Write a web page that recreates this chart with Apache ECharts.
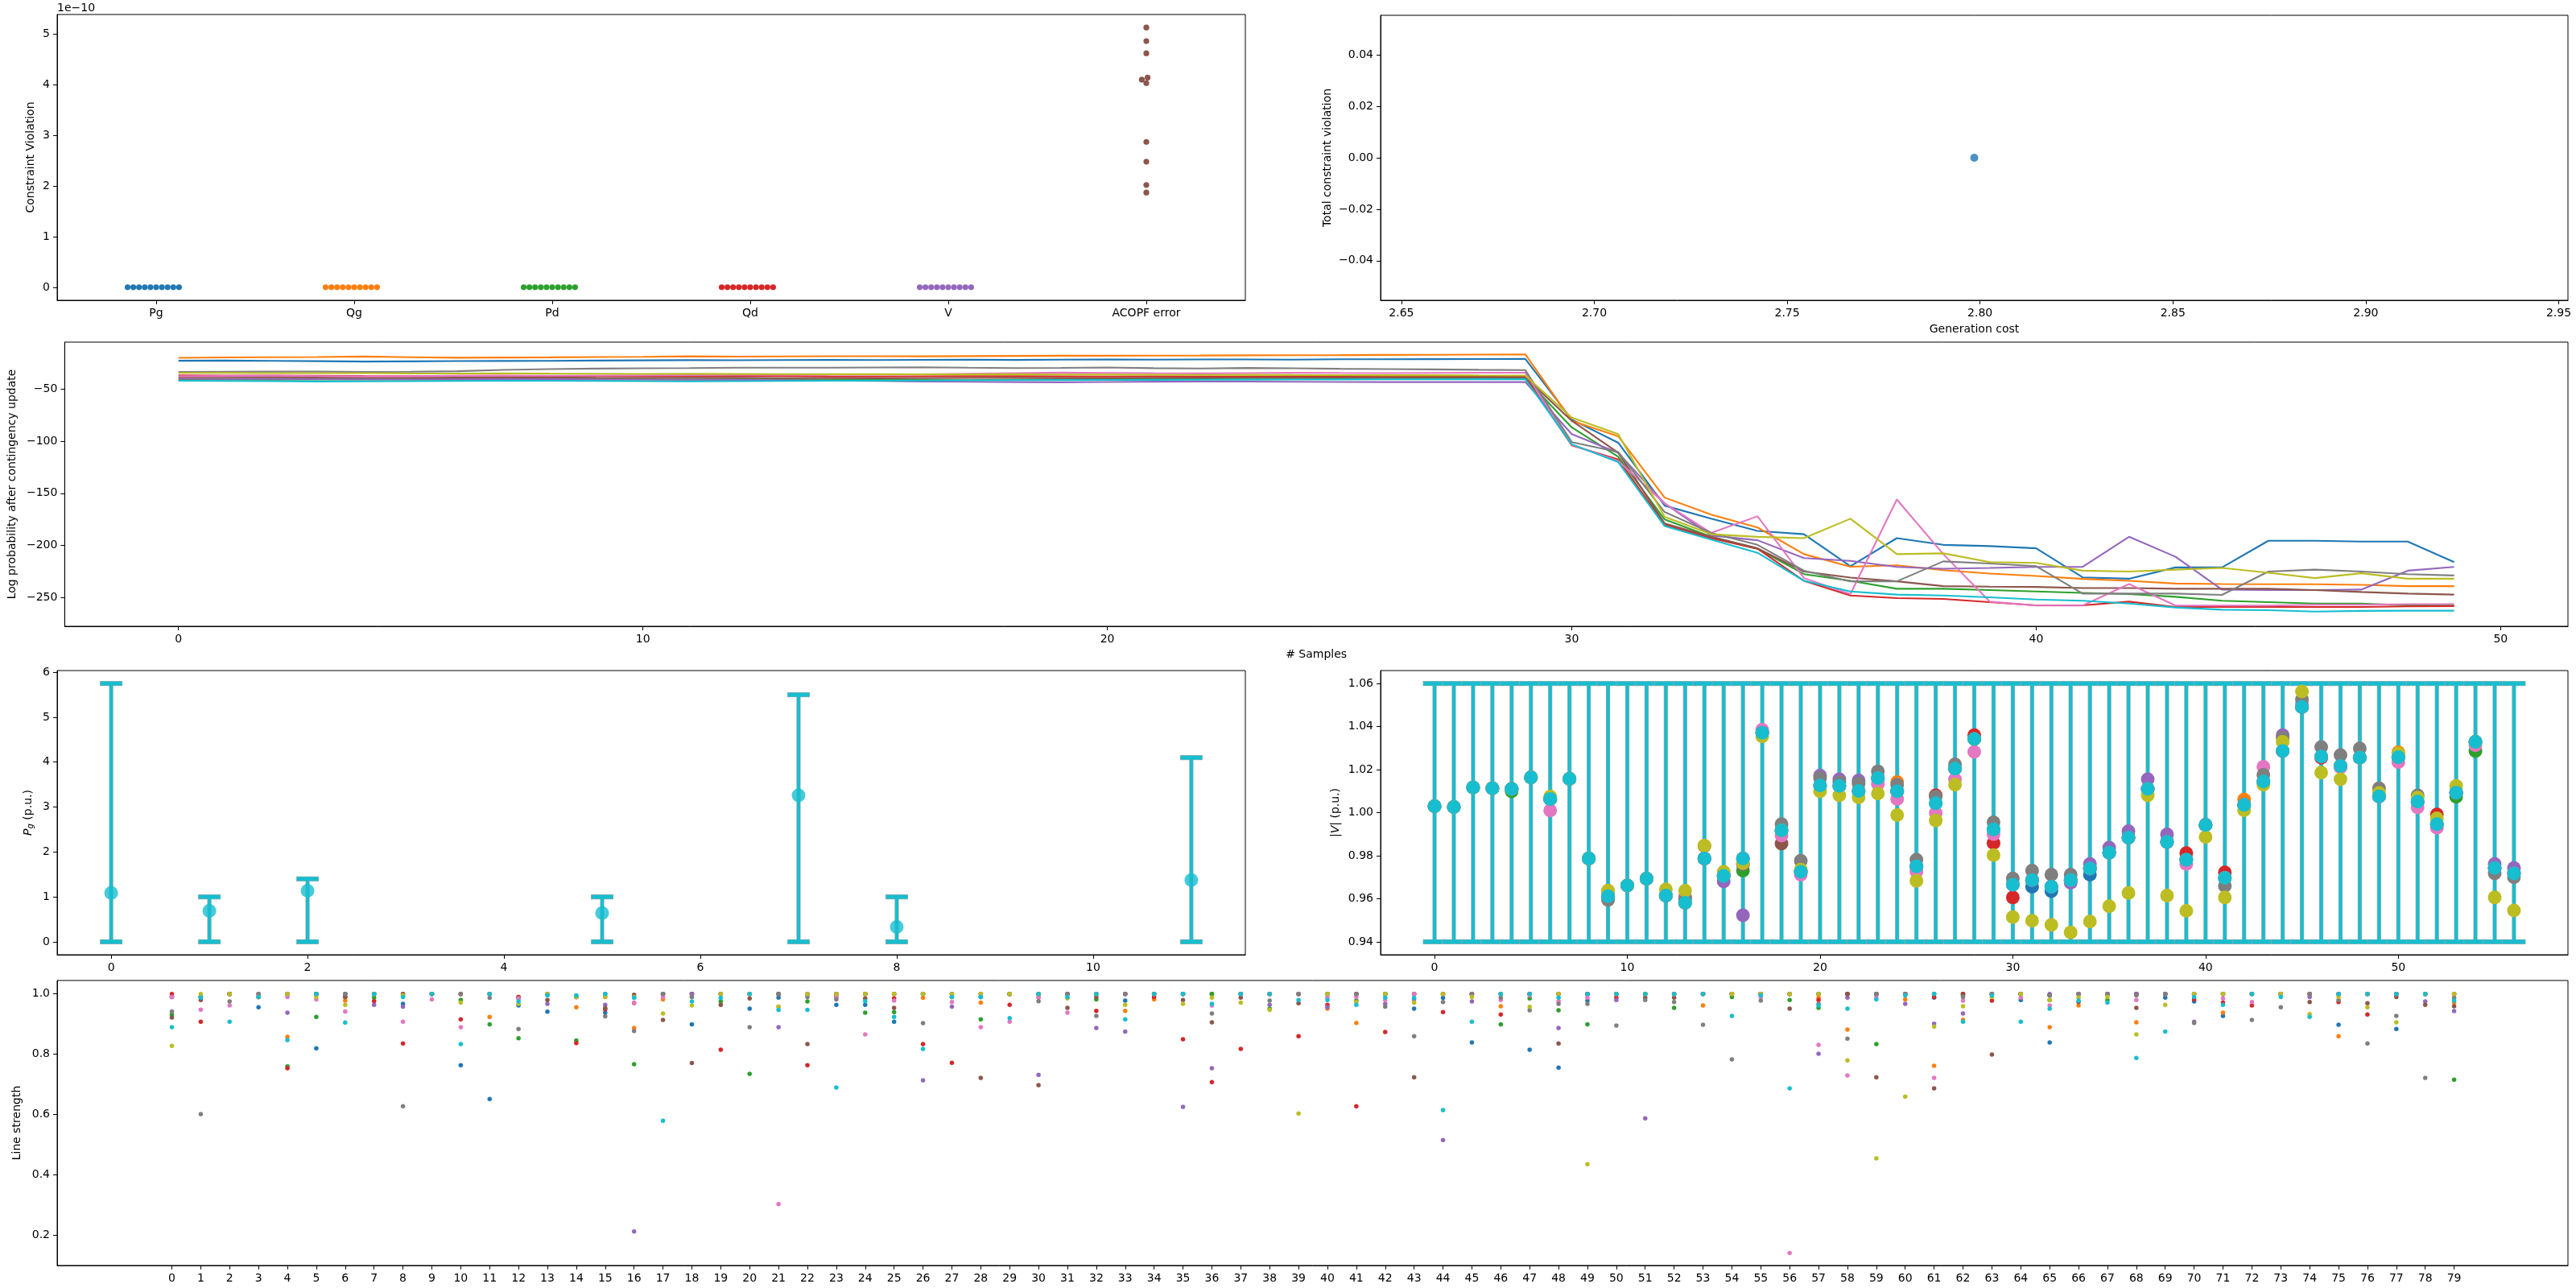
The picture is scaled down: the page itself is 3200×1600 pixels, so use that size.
<!DOCTYPE html>
<html><head><meta charset="utf-8">
<script src="https://cdn.jsdelivr.net/npm/echarts@6/dist/echarts.min.js"></script>
<style>html,body{margin:0;padding:0;background:#fff}#c{width:3200px;height:1600px}</style>
</head><body><div id="c"></div>
<script>
// ---------- Panel 1: constraint violation per category ----------
const violCats = ['Pg', 'Qg', 'Pd', 'Qd', 'V', 'ACOPF error'];
const violPg = [0,0,0,0,0,0,0,0,0,0];
const violQg = [0,0,0,0,0,0,0,0,0,0];
const violPd = [0,0,0,0,0,0,0,0,0,0];
const violQd = [0,0,0,0,0,0,0,0,0,0];
const violV  = [0,0,0,0,0,0,0,0,0,0];
const violACOPF = [5.13e-10, 4.86e-10, 4.62e-10, 4.14e-10, 4.10e-10, 4.03e-10, 2.87e-10, 2.48e-10, 2.02e-10, 1.87e-10];
const violTicks = [0, 1e-10, 2e-10, 3e-10, 4e-10, 5e-10];

// ---------- Panel 2: total violation vs cost ----------
const genCost = [2.7985];
const totalViol = [0];
const costTicks = [2.65, 2.70, 2.75, 2.80, 2.85, 2.90, 2.95];
const totViolTicks = [-0.04, -0.02, 0, 0.02, 0.04];

// ---------- Panel 3: log probability ----------
const logpBlue = [-23.2,-23.0,-23.3,-23.6,-24.0,-23.8,-23.5,-23.4,-23.3,-23.0,-22.8,-22.6,-22.7,-22.5,-22.4,-22.5,-22.3,-22.2,-22.4,-22.1,-22.0,-22.2,-22.0,-21.9,-22.1,-21.8,-21.8,-21.7,-21.6,-21.5,-79.4,-101.6,-161.8,-174.3,-186.0,-189.1,-219.7,-192.9,-199.3,-200.5,-202.6,-230.4,-231.7,-220.9,-220.9,-195.4,-195.4,-196.2,-196.2,-215.8];
const logpOrange = [-20.4,-20.0,-19.8,-19.6,-19.2,-19.8,-20.3,-20.1,-19.9,-19.6,-19.4,-19.0,-19.3,-19.1,-18.9,-18.9,-19.0,-18.8,-18.6,-18.4,-18.4,-18.3,-18.2,-18.0,-17.9,-17.8,-17.6,-17.5,-17.3,-17.1,-80.6,-95.4,-154.1,-170.4,-182.7,-208.2,-220.2,-218.9,-223.5,-226.8,-229.1,-231.9,-233.7,-236.3,-236.8,-237.0,-237.0,-237.5,-238.8,-238.8];
const logpGreen = [-41.0,-41.2,-41.3,-41.1,-41.0,-41.2,-41.4,-41.3,-41.1,-41.0,-41.2,-41.3,-41.1,-41.0,-41.4,-41.5,-41.6,-41.8,-41.4,-41.0,-40.6,-40.3,-40.0,-39.8,-39.8,-40.0,-39.9,-39.8,-39.9,-39.9,-87.0,-115.0,-175.0,-191.6,-203.0,-227.3,-233.7,-241.3,-241.3,-242.6,-243.9,-245.2,-246.4,-249.0,-252.8,-254.1,-255.4,-255.4,-257.2,-257.2];
const logpRed = [-37.2,-37.4,-37.3,-37.5,-37.8,-38.0,-37.6,-37.5,-37.7,-37.9,-38.0,-37.8,-37.7,-37.9,-38.2,-38.3,-38.1,-37.9,-38.0,-38.2,-38.3,-38.2,-38.4,-38.3,-38.5,-38.4,-38.6,-38.5,-38.4,-38.6,-104.1,-117.6,-180.1,-192.9,-203.0,-233.7,-247.7,-250.3,-251.0,-254.1,-257.2,-257.2,-253.6,-258.7,-258.7,-258.7,-258.7,-258.7,-258.2,-257.9];
const logpPurple = [-40.4,-40.6,-40.5,-40.8,-41.0,-40.9,-40.7,-40.6,-40.8,-41.0,-41.2,-41.4,-41.5,-41.8,-42.2,-42.5,-43.0,-43.3,-43.6,-43.8,-43.5,-43.2,-43.0,-43.1,-43.3,-43.5,-43.6,-43.5,-43.6,-43.6,-93.4,-111.2,-159.7,-190.3,-194.9,-212.0,-214.6,-220.4,-222.2,-221.4,-220.4,-220.4,-191.6,-210.7,-242.1,-242.6,-242.6,-242.1,-224.0,-220.4];
const logpBrown = [-39.0,-38.9,-39.1,-39.3,-39.5,-39.6,-39.4,-39.3,-39.2,-39.5,-39.7,-39.6,-39.5,-39.8,-39.9,-40.0,-39.8,-39.7,-39.6,-39.8,-39.9,-39.7,-39.6,-39.5,-39.3,-39.4,-39.2,-39.1,-39.0,-39.0,-80.6,-111.2,-178.9,-191.6,-202.6,-224.8,-230.6,-234.2,-238.8,-239.3,-239.6,-240.6,-240.6,-241.3,-241.3,-241.3,-242.6,-244.4,-245.9,-246.9];
const logpPink = [-38.0,-37.8,-37.6,-37.9,-38.2,-38.0,-37.7,-37.5,-37.6,-37.4,-37.2,-37.0,-36.8,-36.6,-36.5,-36.6,-36.2,-35.6,-35.0,-34.6,-34.8,-35.1,-35.3,-35.0,-34.7,-34.9,-35.0,-34.8,-34.7,-34.7,-103.6,-118.9,-159.7,-187.8,-172.0,-231.1,-246.4,-155.9,-208.2,-253.6,-257.4,-257.4,-236.8,-257.4,-257.4,-257.4,-256.6,-256.6,-256.0,-256.0];
const logpGray = [-33.9,-33.7,-33.5,-33.6,-33.9,-33.7,-33.2,-32.0,-31.2,-30.7,-30.4,-30.2,-29.9,-29.9,-29.8,-29.6,-29.5,-29.9,-30.2,-30.0,-29.7,-30.3,-30.6,-30.1,-30.4,-30.9,-31.2,-31.5,-31.9,-32.2,-101.0,-110.5,-167.9,-187.8,-199.3,-224.0,-234.2,-234.2,-215.1,-217.1,-219.7,-245.9,-245.9,-245.9,-247.2,-224.8,-223.0,-224.8,-227.3,-228.6];
const logpOlive = [-34.8,-34.9,-35.0,-35.1,-35.0,-35.3,-35.4,-35.2,-35.5,-35.6,-35.8,-35.7,-35.9,-36.0,-36.1,-36.0,-36.2,-36.3,-36.1,-36.4,-36.5,-36.6,-36.8,-36.7,-36.9,-37.0,-37.1,-37.0,-37.2,-37.3,-77.6,-93.4,-172.5,-189.1,-191.6,-192.9,-174.3,-208.2,-207.4,-215.8,-216.6,-224.0,-224.8,-223.0,-221.4,-226.0,-231.1,-226.5,-231.7,-231.7];
const logpCyan = [-42.4,-42.6,-42.8,-43.0,-42.9,-42.7,-42.5,-42.3,-42.4,-42.6,-42.8,-42.9,-42.7,-42.5,-42.4,-42.3,-42.2,-42.0,-41.8,-41.7,-41.6,-41.5,-41.4,-41.3,-41.2,-41.1,-41.0,-41.0,-40.9,-40.9,-103.1,-120.2,-181.4,-194.2,-206.9,-233.7,-243.9,-246.9,-247.7,-249.5,-251.6,-252.8,-255.4,-259.2,-261.3,-261.8,-263.1,-262.5,-262.3,-262.3];
const logpTicksX = [0, 10, 20, 30, 40, 50];
const logpTicksY = [-250, -200, -150, -100, -50];

// ---------- Panel 4: generator output with limits ----------
const pgGen = [0, 1, 2, 5, 7, 8, 11];
const pgValue = [1.088, 0.688, 1.136, 0.64, 3.26, 0.329, 1.376];
const pgMin = [0, 0, 0, 0, 0, 0, 0];
const pgMax = [5.75, 1.0, 1.4, 1.0, 5.5, 1.0, 4.1];
const pgTicksX = [0, 2, 4, 6, 8, 10];
const pgTicksY = [0, 1, 2, 3, 4, 5, 6];

// ---------- Panel 5: bus voltage magnitudes ----------
const vBusMin = 0.94, vBusMax = 1.06;
const vBlue   = {31:0.9656, 32:0.9635, 34:0.9712};
const vOrange = {9:0.9637, 24:1.0142, 42:1.0061, 50:1.028};
const vGreen  = {4:1.0099, 16:0.9731, 53:1.0074, 54:1.0286};
const vBrown  = {14:0.9845, 16:0.976, 18:0.9856};
const vRed = [1.003,1.0026,1.0117,1.0113,1.011,1.0164,1.0064,1.0157,0.9787,0.9612,0.9662,0.9693,0.9615,0.9581,0.9787,0.9706,0.9787,1.0371,0.9918,0.9725,1.0126,1.0124,1.0101,1.0161,1.0099,0.975,1.008,1.0205,1.036,0.9859,0.9606,0.9687,0.9656,0.9687,0.974,0.9814,0.9884,1.011,0.9864,0.9812,0.9943,0.9722,1.0036,1.0145,1.0286,1.0491,1.0255,1.0217,1.0255,1.0076,1.0258,1.0051,0.9992,1.0093,1.0329,0.9743,0.9718];
const vPurple = [1.003,1.0026,1.0117,1.0113,1.011,1.0164,1.0064,1.0157,0.9787,0.9612,0.9662,0.9693,0.9615,0.9605,0.9787,0.968,0.9523,1.0371,0.9918,0.9725,1.0172,1.0155,1.015,1.0161,1.0099,0.975,1.0044,1.0205,1.0342,0.9922,0.9665,0.9687,0.9656,0.9675,0.9762,0.9837,0.9914,1.0155,0.9899,0.9781,0.9943,0.9697,1.0036,1.0145,1.036,1.0491,1.0261,1.0217,1.0255,1.0076,1.0258,1.0051,0.9947,1.0093,1.0329,0.9762,0.9743];
const vPink = [1.003,1.0026,1.0117,1.0113,1.011,1.0164,1.001,1.0157,0.9787,0.9612,0.9662,0.9693,0.9615,0.961,0.9787,0.9706,0.9787,1.0385,0.9893,0.9712,1.0126,1.0124,1.0101,1.0133,1.0064,0.9725,0.9998,1.0155,1.0282,0.99,0.9665,0.9687,0.9656,0.9687,0.974,0.9814,0.9884,1.011,0.9864,0.9762,0.9943,0.9697,1.0036,1.0213,1.0286,1.0506,1.0261,1.021,1.0255,1.0076,1.0235,1.0024,0.993,1.0093,1.0313,0.9743,0.9718];
const vGray = [1.003,1.0026,1.0117,1.0113,1.011,1.0164,1.0064,1.0157,0.9787,0.9594,0.9662,0.9693,0.9615,0.96,0.9787,0.9706,0.9762,1.0371,0.9947,0.9777,1.0161,1.0142,1.0136,1.0192,1.013,0.9781,1.0075,1.0224,1.0342,0.9955,0.9694,0.9731,0.9712,0.9712,0.974,0.9814,0.9884,1.011,0.9864,0.9781,0.9943,0.966,1.0036,1.0176,1.0348,1.0525,1.0305,1.0267,1.0298,1.0113,1.0258,1.008,0.9947,1.0093,1.0329,0.9718,0.97];
const vOlive = [1.003,1.0026,1.0117,1.0113,1.011,1.0164,1.0075,1.0157,0.9787,0.9637,0.9662,0.9693,0.9644,0.9637,0.9847,0.9725,0.9765,1.0354,0.9918,0.9735,1.0099,1.008,1.0071,1.0089,0.9989,0.9683,0.9964,1.013,1.0342,0.9803,0.9515,0.9498,0.9478,0.9444,0.9494,0.9565,0.9627,1.008,0.9615,0.9544,0.9887,0.9606,1.0011,1.013,1.0329,1.0563,1.0186,1.0155,1.0255,1.0092,1.0275,1.007,0.9974,1.0124,1.0329,0.9606,0.9546];
const vCyan = [1.003,1.0026,1.0117,1.0113,1.011,1.0164,1.0064,1.0157,0.9787,0.9612,0.9662,0.9693,0.9615,0.9581,0.9787,0.9706,0.9787,1.0371,0.9918,0.9725,1.0126,1.0124,1.0101,1.0161,1.0099,0.975,1.0044,1.0205,1.0342,0.9922,0.9665,0.9687,0.9656,0.9687,0.974,0.9814,0.9884,1.011,0.9864,0.9781,0.9943,0.9697,1.0036,1.0145,1.0286,1.0491,1.0261,1.0217,1.0255,1.0076,1.0258,1.0051,0.9947,1.0093,1.0329,0.9743,0.9718];
const vTicksX = [0, 10, 20, 30, 40, 50];
const vTicksY = [0.94, 0.96, 0.98, 1.00, 1.02, 1.04, 1.06];

// ---------- Panel 6: line strength ----------
const lsBlue = [.99,.99,1,.956,1,.82,1,1,.967,1, .764,.652,.962,.941,.99,.938,.99,1,.899,1, .951,.988,1,.964,.964,.908,1,1,.99,1, 1,1,1,.978,1,1,1,1,1,1, 1,1,1,.951,.987,.839,1,.815,.756,.978, 1,1,1,1,1,1,1,1,1,1, 1,.988,1,1,.98,.839,1,1,1,.988, .975,.927,1,1,1,.898,1,.884,1,1];
const lsOrange = [.99,.99,1,.99,.858,1,.978,1,1,1, 1,.924,.99,1,.956,.99,.887,.982,1,1, 1,.958,1,1,1,1,.987,1,.971,1, .99,1,1,.944,.982,1,1,1,1,1, .951,.904,1,1,1,1,.959,1,1,1, 1,1,1,.962,1,1,1,.988,.882,1, .982,.762,.914,1,1,.89,.962,1,.906,1, 1,.938,1,1,1,.86,1,1,1,.971];
const lsGreen = [.932,.99,1,.99,.76,.924,1,.988,.995,1, .98,.899,.853,1,.846,1,.767,1,1,.975, .735,1,.975,1,.938,.94,1,.99,.916,1, 1,1,.982,1,1,1,1,1,.951,1, 1,.978,1,1,1,1,.899,.985,.946,.899, 1,1,.954,1,.99,1,.98,.954,1,.834, 1,1,1,1,1,.98,1,.98,1,1, 1,1,1,1,1,1,1,1,1,.716];
const lsRed = [1,.908,1,.99,.754,1,.99,.976,.836,1, .916,1,.99,1,.837,.949,.97,1,1,.815, 1,1,.764,1,1,.985,.834,.772,1,.964, 1,1,.944,1,.99,.85,.708,.818,1,.86, .964,.628,.874,1,.94,1,.932,1,1,1, .988,1,1,1,1,1,1,.98,1,1, 1,.99,1,.978,1,.995,1,1,1,1, .982,.971,.962,1,1,.973,.932,1,1,1];
const lsPurple = [.99,.99,1,.99,.938,1,1,.964,.958,1, 1,1,.985,.967,.99,.964,.213,1,1,1, 1,.89,1,1,1,1,.714,.958,1,1, .732,1,.887,.875,1,.626,.754,1,.964,1, .956,1,.967,.982,.516,.975,1,1,.887,1, .98,.588,1,1,1,1,1,.802,.988,1, .967,.901,.935,1,1,1,1,1,1,1, .908,1,1,1,.99,1,1,1,.975,.943];
const lsBrown = [.922,.98,1,1,1,1,.99,1,1,1, 1,1,.988,.98,.99,.953,.997,.914,.771,.964, .985,1,.834,.99,.985,.954,1,1,.722,1, .698,.954,.99,1,1,.98,.906,.988,1,.969, 1,1,1,.724,1,1,1,1,.836,1, 1,.988,.988,1,1,1,.951,1,1,.724, 1,.687,.995,.799,1,.995,.973,1,.954,1, 1,1,1,1,.973,1,.969,.99,.964,.959];
const lsPink = [.99,.948,.962,1,.99,.982,.942,1,.908,.982, .89,1,.985,1,.99,1,.971,.99,.99,1, 1,.304,1,.99,.866,.978,1,.973,.89,.908, .988,.938,1,1,1,1,.962,1,1,1, .988,.99,.98,1,1,1,.98,.995,.976,.988, 1,1,1,1,1,.99,.142,.831,.73,.99, 1,.722,.978,1,.988,.962,1,1,.98,1, 1,.985,.973,1,1,1,1,1,1,1];
const lsGray = [.942,.602,.975,1,1,1,1,1,.628,1, 1,.987,.884,1,.99,.926,.877,1,.99,1, .89,1,.99,.982,1,1,.903,.99,.99,1, .976,1,.927,1,1,1,.935,1,.978,1, 1,1,.958,.86,.973,1,.988,.946,.967,.967, .895,.98,.973,.898,.783,.978,1,.967,.852,1, 1,1,.99,1,1,.995,1,1,.995,1, .904,1,.914,.956,1,.98,.836,.927,.722,.988];
const lsOlive = [.828,1,1,.99,1,.99,.964,1,.995,1, .971,1,.967,1,.99,.991,.99,.935,.962,1, 1,.958,1,1,1,1,1,1,1,1, 1,.985,1,.964,1,.967,.988,.971,.947,.604, 1,.973,1,.971,1,.99,1,.957,1,.436, 1,1,1,1,1,1,1,1,.78,.455, .66,.892,.959,.99,1,.98,.988,.99,.866,.964, 1,1,1,1,.933,.99,.956,.906,1,1];
const lsCyan = [.89,.988,.908,.99,.847,1,.905,1,.99,1, .834,1,.975,.995,.995,1,.987,.58,.975,.987, 1,.947,.947,.69,.976,.924,.818,.99,.99,.92, 1,.99,1,.916,1,1,.967,1,1,.98, .98,.964,.988,.987,.615,.908,1,1,.988,1, 1,1,1,1,.927,.995,.687,.962,.951,.982, .995,1,.908,.995,.908,.951,.978,.971,.788,.875, .99,.964,1,.99,.924,1,1,1,1,.978];
const lsTicksY = [0.2, 0.4, 0.6, 0.8, 1.0];
const lsTicksX = Array.from({length: 80}, (_, i) => i);

// ---------- rendering ----------
const TAB = ['#1f77b4','#ff7f0e','#2ca02c','#d62728','#9467bd','#8c564b','#e377c2','#7f7f7f','#bcbd22','#17becf'];
const FONT = 'DejaVu Sans';
const minus = s => String(s).replace('-', '\u2212');
const nameStyle = {fontSize: 14, color: '#000', fontFamily: FONT};

function vAxis(gi, min, max, ticks, fmt, extra) {
  return Object.assign({
    type: 'value', gridIndex: gi, min: min, max: max, scale: true,
    splitLine: {show: false},
    axisLine: {show: true, onZero: false, lineStyle: {color: '#000', width: 1}},
    axisTick: {show: true, length: 5, lineStyle: {color: '#000', width: 1}, customValues: ticks},
    axisLabel: {show: true, customValues: ticks, formatter: fmt, color: '#000', fontSize: 14, fontFamily: FONT, margin: 9},
    nameTextStyle: nameStyle
  }, extra || {});
}

const grids = [
  {left: 71, top: 18, width: 1476, height: 355},
  {left: 1715, top: 19, width: 1475, height: 354},
  {left: 71, top: 425, width: 3119, height: 353},
  {left: 71, top: 833, width: 1476, height: 353},
  {left: 1715, top: 833, width: 1475, height: 353},
  {left: 71, top: 1218, width: 3119, height: 354}
].map(g => Object.assign({show: true, borderColor: '#000', borderWidth: 1, backgroundColor: 'transparent', containLabel: false}, g));

const xAxes = [
  {type: 'category', gridIndex: 0, data: violCats, boundaryGap: true,
   splitLine: {show: false},
   axisLine: {show: true, onZero: false, lineStyle: {color: '#000'}},
   axisTick: {show: true, alignWithLabel: true, length: 5, lineStyle: {color: '#000'}},
   axisLabel: {color: '#000', fontSize: 14, fontFamily: FONT, margin: 9}},
  vAxis(1, 2.6446, 2.9524, costTicks, v => v.toFixed(2), {name: 'Generation cost', nameLocation: 'middle', nameGap: 29}),
  vAxis(2, -2.45, 51.45, logpTicksX, v => String(v), {name: '# Samples', nameLocation: 'middle', nameGap: 28}),
  vAxis(3, -0.55, 11.55, pgTicksX, v => String(v)),
  vAxis(4, -2.8, 58.8, vTicksX, v => String(v)),
  vAxis(5, -3.97, 82.94, lsTicksX, v => String(v))
];
const yAxes = [
  vAxis(0, -0.2565e-10, 5.3865e-10, violTicks, v => String(Math.round(v * 1e10)), {name: 'Constraint Violation', nameLocation: 'middle', nameGap: 26}),
  vAxis(1, -0.0554, 0.0554, totViolTicks, v => minus(v.toFixed(2)), {name: 'Total constraint violation', nameLocation: 'middle', nameGap: 59}),
  vAxis(2, -277.2, -5.4, logpTicksY, v => minus(v), {name: 'Log probability after contingency update', nameLocation: 'middle', nameGap: 55}),
  vAxis(3, -0.2875, 6.0375, pgTicksY, v => String(v), {
    name: '{i|P}{s|g} (p.u.)', nameLocation: 'middle', nameGap: 28,
    nameTextStyle: Object.assign({}, nameStyle, {rich: {
      i: {fontStyle: 'italic', fontSize: 14, fontFamily: FONT, color: '#000'},
      s: {fontStyle: 'italic', fontSize: 10, fontFamily: FONT, color: '#000', padding: [6, 0, 0, 0]}
    }})}),
  vAxis(4, 0.934, 1.066, vTicksY, v => v.toFixed(2), {
    name: '|{i|V}| (p.u.)', nameLocation: 'middle', nameGap: 49,
    nameTextStyle: Object.assign({}, nameStyle, {rich: {i: {fontStyle: 'italic', fontSize: 14, fontFamily: FONT, color: '#000'}}})}),
  vAxis(5, 0.1005, 1.0444, lsTicksY, v => v.toFixed(1), {name: 'Line strength', nameLocation: 'middle', nameGap: 39})
];

const series = [];
// Panel 1
const violSets = [violPg, violQg, violPd, violQd, violV, violACOPF];
violSets.forEach((arr, ci) => {
  series.push({type: 'scatter', xAxisIndex: 0, yAxisIndex: 0, symbolSize: 7.2,
    itemStyle: {color: TAB[ci], opacity: 1}, data: arr.map(v => ({value: [ci, v]}))});
});
// Panel 2
series.push({type: 'scatter', xAxisIndex: 1, yAxisIndex: 1, symbolSize: 10, itemStyle: {color: TAB[0]},
  data: genCost.map((c, i) => [c, totalViol[i]])});
// Panel 3
[logpBlue, logpOrange, logpGreen, logpRed, logpPurple, logpBrown, logpPink, logpGray, logpOlive, logpCyan].forEach((arr, k) => {
  series.push({type: 'line', xAxisIndex: 2, yAxisIndex: 2, showSymbol: false, symbol: 'none',
    lineStyle: {color: TAB[k], width: 2.1}, itemStyle: {color: TAB[k]},
    data: arr.map((v, i) => [i, v])});
});
// error bar renderer
function errBar(capHalf, lw, capW) {
  return function (params, api) {
    const x = api.value(0);
    const lo = api.coord([x, api.value(1)]);
    const hi = api.coord([x, api.value(2)]);
    const c = '#17becf', e = '#a8a8a8';
    const seg = (x1, y1, x2, y2, w, col) => ({type: 'line', shape: {x1: x1, y1: y1, x2: x2, y2: y2}, style: {stroke: col, lineWidth: w, fill: null}});
    return {type: 'group', children: [
      seg(lo[0], lo[1], hi[0], hi[1], lw + 1.2, e),
      seg(lo[0] - capHalf, lo[1], lo[0] + capHalf, lo[1], capW + 1.2, e),
      seg(hi[0] - capHalf, hi[1], hi[0] + capHalf, hi[1], capW + 1.2, e),
      seg(lo[0], lo[1], hi[0], hi[1], lw, c),
      seg(lo[0] - capHalf + 0.6, lo[1], lo[0] + capHalf - 0.6, lo[1], capW, c),
      seg(hi[0] - capHalf + 0.6, hi[1], hi[0] + capHalf - 0.6, hi[1], capW, c)
    ]};
  };
}
// Panel 4
series.push({type: 'custom', xAxisIndex: 3, yAxisIndex: 3, renderItem: errBar(14, 4, 5), itemStyle: {color: '#17becf'},
  encode: {x: 0, y: [1, 2]}, data: pgGen.map((g, i) => [g, pgMin[i], pgMax[i]])});
series.push({type: 'scatter', xAxisIndex: 3, yAxisIndex: 3, symbolSize: 17, itemStyle: {color: '#17becf'},
  data: pgGen.map((g, i) => [g, pgValue[i]])});
// Panel 5
series.push({type: 'custom', xAxisIndex: 4, yAxisIndex: 4, renderItem: errBar(14.5, 4, 5), itemStyle: {color: '#17becf'},
  encode: {x: 0, y: [1, 2]}, data: vCyan.map((_, b) => [b, vBusMin, vBusMax])});
const sparse = o => Object.keys(o).map(k => [Number(k), o[k]]);
const vSets = [sparse(vBlue), sparse(vOrange), sparse(vGreen), vRed.map((v, b) => [b, v]), vPurple.map((v, b) => [b, v]),
  sparse(vBrown), vPink.map((v, b) => [b, v]), vGray.map((v, b) => [b, v]), vOlive.map((v, b) => [b, v]), vCyan.map((v, b) => [b, v])];
vSets.forEach((d, k) => {
  series.push({type: 'scatter', xAxisIndex: 4, yAxisIndex: 4, symbolSize: 17, itemStyle: {color: TAB[k], opacity: 1}, data: d});
});
// Panel 6
[lsBlue, lsOrange, lsGreen, lsRed, lsPurple, lsBrown, lsPink, lsGray, lsOlive, lsCyan].forEach((arr, k) => {
  series.push({type: 'scatter', xAxisIndex: 5, yAxisIndex: 5, symbolSize: 5.5, itemStyle: {color: TAB[k], opacity: 1},
    data: arr.map((v, i) => [i, v])});
});

const chart = echarts.init(document.getElementById('c'), null, {renderer: 'canvas', width: 3200, height: 1600});
chart.setOption({
  animation: false,
  color: TAB,
  backgroundColor: '#fff',
  textStyle: {fontFamily: FONT},
  grid: grids, xAxis: xAxes, yAxis: yAxes, series: series,
  graphic: [{type: 'text', left: 71, top: 3, style: {text: '1e\u221210', fontSize: 14, fill: '#000', fontFamily: FONT}}]
});

// beeswarm layout for panel 1 (pixel-space, seaborn-like)
function swarm(ys, d) {
  const order = ys.map((_, i) => i).sort((a, b) => ys[b] - ys[a]);
  const placed = [], off = new Array(ys.length).fill(0);
  for (const i of order) {
    const y = ys[i];
    const cands = [0];
    for (const p of placed) {
      const dy = Math.abs(p.y - y);
      if (dy < d) { const dx = Math.sqrt(d * d - dy * dy); cands.push(p.x - dx, p.x + dx); }
    }
    cands.sort((a, b) => (Math.abs(a) - Math.abs(b)) || (a - b));
    let chosen = cands[cands.length - 1];
    for (const c of cands) {
      if (placed.every(p => Math.hypot(p.x - c, p.y - y) >= d - 1e-6)) { chosen = c; break; }
    }
    placed.push({x: chosen, y: y});
    off[i] = chosen;
  }
  return off;
}
const swarmSeries = violSets.map((arr, ci) => {
  const ys = arr.map(v => chart.convertToPixel({xAxisIndex: 0, yAxisIndex: 0}, [ci, v])[1]);
  const off = swarm(ys, 7.1);
  return {data: arr.map((v, i) => ({value: [ci, v], symbolOffset: [off[i], 0]}))};
});
chart.setOption({series: swarmSeries});
</script></body></html>
